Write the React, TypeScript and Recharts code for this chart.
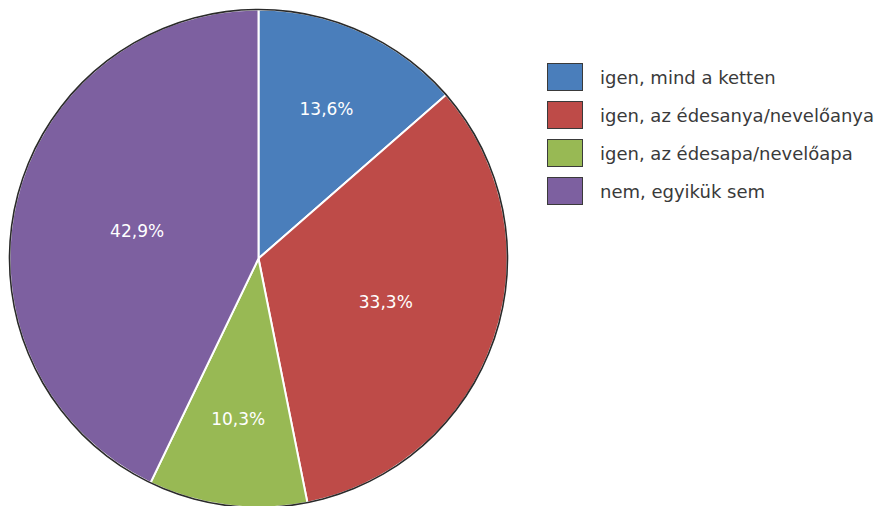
import React from "react";
import { PieChart, Pie, Cell, Legend } from "recharts";

const categories = [
  "igen, mind a ketten",
  "igen, az édesanya/nevelőanya",
  "igen, az édesapa/nevelőapa",
  "nem, egyikük sem",
];
const values = [13.6, 33.3, 10.3, 42.9];
const valueLabels = ["13,6%", "33,3%", "10,3%", "42,9%"];
const colors = ["#4A7EBB", "#BE4B48", "#98B954", "#7D60A0"];
const labelRadiusRatio = [0.66, 0.54, 0.65, 0.5];

const data = categories.map((name, i) => ({ name, value: values[i], label: valueLabels[i] }));
const ringData = [{ name: "ring", value: 1 }];

const FONT = "'DejaVu Sans', sans-serif";
const RAD = Math.PI / 180;

const renderLabel = (props: any) => {
  const { cx, cy, midAngle, outerRadius, index } = props;
  const r = outerRadius * labelRadiusRatio[index];
  const x = cx + r * Math.cos(-midAngle * RAD);
  const y = cy + r * Math.sin(-midAngle * RAD);
  return (
    <text
      x={x}
      y={y}
      fill="#FFFFFF"
      textAnchor="middle"
      dominantBaseline="central"
      fontFamily={FONT}
      fontSize={17}
    >
      {valueLabels[index]}
    </text>
  );
};

const renderLegend = () => (
  <div style={{ fontFamily: FONT }}>
    {categories.map((c, i) => (
      <div key={c} style={{ display: "flex", alignItems: "center", height: 38 }}>
        <div
          style={{
            width: 34,
            height: 26,
            background: colors[i],
            border: "1px solid #3a3a3a",
            flex: "none",
          }}
        />
        <span style={{ marginLeft: 17, fontSize: 18, color: "#3a3a3a", whiteSpace: "nowrap" }}>{c}</span>
      </div>
    ))}
  </div>
);

export default function App() {
  return (
    <div style={{ position: "absolute", left: 0, top: 0 }}>
      <PieChart width={877} height={506} margin={{ top: 0, right: 0, bottom: 0, left: 0 }}>
        <Pie
          data={data}
          dataKey="value"
          nameKey="name"
          cx={258.5}
          cy={258.5}
          outerRadius={249}
          startAngle={90}
          endAngle={-270}
          stroke="#FFFFFF"
          strokeWidth={2}
          label={renderLabel}
          labelLine={false}
          isAnimationActive={false}
        >
          {data.map((d, i) => (
            <Cell key={d.name} fill={colors[i]} />
          ))}
        </Pie>
        <Pie
          data={ringData}
          dataKey="value"
          cx={258.5}
          cy={258.5}
          innerRadius={248.2}
          outerRadius={249.8}
          startAngle={90}
          endAngle={-270}
          stroke="none"
          fill="#2a2a2a"
          isAnimationActive={false}
          legendType="none"
        />
        <Legend
          content={renderLegend}
          wrapperStyle={{ position: "absolute", left: 547, top: 58, width: 330 }}
        />
      </PieChart>
    </div>
  );
}
